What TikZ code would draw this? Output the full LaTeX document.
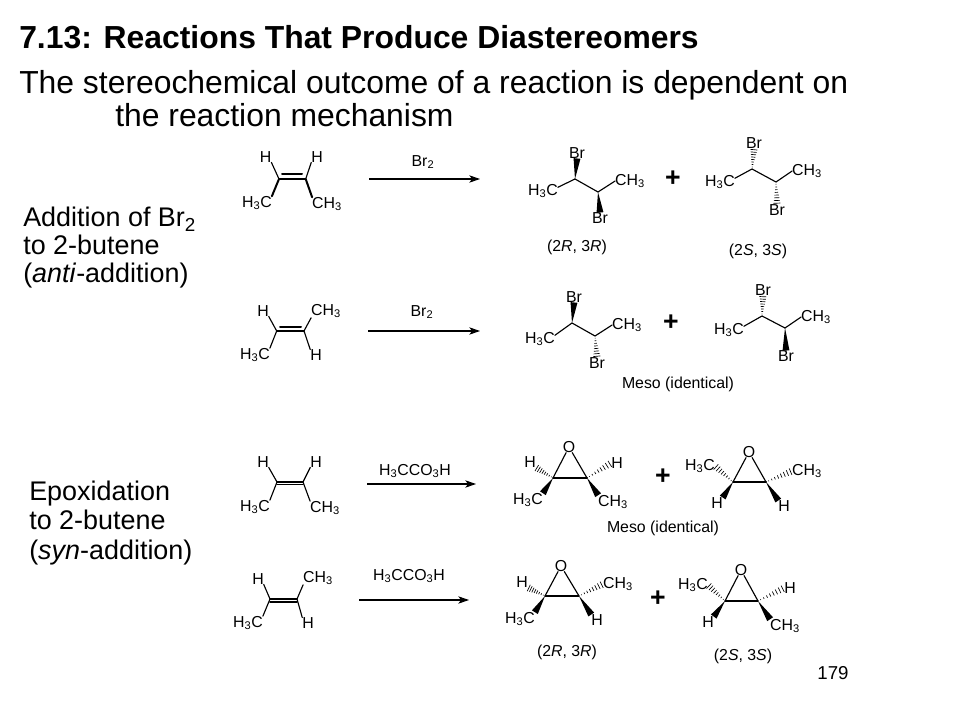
\documentclass[tikz,border=0pt]{standalone}
\usepackage{fontspec}
\setmainfont{Liberation Sans}
\usetikzlibrary{calc,arrows.meta}
\tikzset{
  atom/.style={inner sep=0pt,outer sep=0pt,font=\fontsize{11.9pt}{14pt}\selectfont},
  bond/.style={line width=0.85pt,line cap=round},
  heavy/.style={line width=1.5pt,line cap=round},
  hashline/.style={line width=0.5pt},
  rxn/.style={line width=0.8pt,-{Stealth[length=8pt,width=5.5pt,inset=2pt]}},
  plus/.style={inner sep=0pt,font=\fontsize{20pt}{22pt}\selectfont\bfseries},
  heading/.style={inner sep=0pt,anchor=base west,font=\fontsize{23.9pt}{28pt}\selectfont},
  side/.style={inner sep=0pt,anchor=base west,font=\fontsize{20.2pt}{24pt}\selectfont},
}
\newcommand\Hc{H\textsubscript{3}C}
\newcommand\Ch{CH\textsubscript{3}}
\newcommand\wedgebd[2]{\fill ($(#1)$) -- ($(#2)!2.6pt!90:(#1)$) -- ($(#2)!2.6pt!-90:(#1)$) -- cycle;}
\newcommand\hashbd[2]{\foreach \hh in {0.1,0.22,0.34,0.46,0.58,0.7,0.82,0.94}{
  \coordinate (hp) at ($(#1)!\hh!(#2)$);
  \draw[hashline] ($(hp)!\hh*2.8pt!90:(#2)$) -- ($(hp)!\hh*2.8pt!-90:(#2)$);}}
\begin{document}
\begin{tikzpicture}[x=0.75pt,y=-0.75pt]
\useasboundingbox (0,0) rectangle (960,720);
% headings
\node[heading,font=\fontsize{23.9pt}{28pt}\selectfont\bfseries] (title) at (19,49) {7.13: Reactions That Produce Diastereomers};
\node[heading] (line1) at (19,94) {The stereochemical outcome of a reaction is dependent on};
\node[heading] (line2) at (115,127) {the reaction mechanism};
\node[side] (s1) at (23,227) {Addition of Br\textsubscript{2}};
\node[side] (s2) at (23,255) {to 2-butene};
\node[side] (s3) at (23,283) {(\textit{anti}-addition)};
\node[side] (s4) at (29,500) {Epoxidation};
\node[side] (s5) at (29,529) {to 2-butene};
\node[side] (s6) at (29,559) {(\textit{syn}-addition)};
\node[inner sep=0pt,font=\fontsize{14pt}{16pt}\selectfont] (page) at (833,673) {179};

% alkene 1
\coordinate (a1) at (279,179); \coordinate (a2) at (305.7,179);
\coordinate (a1i) at (282,174.3); \coordinate (a2i) at (302,174.3);
\node[atom] (a3) at (265.7,157) {H}; \node[atom] (a4) at (317,157) {H};
\node[atom] (a5) at (257,203) {\Hc}; \node[atom] (a6) at (327,204) {\Ch};
\draw[bond] (a1)--(a2); \draw[heavy] (a1i)--(a2i);
\draw[bond] (a1)--(a3.south east); \draw[bond] (a2)--(a4.south west);
\draw[heavy] (a1)--(a5.north east); \draw[heavy] (a2)--(a6.north west);
\coordinate (r1s) at (369,179); \coordinate (r1e) at (480,179);
\draw[rxn] (r1s)--(r1e);
\node[atom] (r1t) at (423,162) {Br\textsubscript{2}};

% alkene 2
\coordinate (b1) at (276.7,331); \coordinate (b2) at (304,331);
\coordinate (b1i) at (280,326.7); \coordinate (b2i) at (301,326.7);
\node[atom] (b3) at (263,311) {H}; \node[atom] (b4) at (326,311) {\Ch};
\node[atom] (b5) at (255,355) {\Hc}; \node[atom] (b6) at (316,355) {H};
\draw[bond] (b1)--(b2); \draw[heavy] (b1i)--(b2i);
\draw[bond] (b1)--(b3.south east); \draw[bond] (b2)--(b4.south west);
\draw[bond] (b1)--(b5.north east); \draw[bond] (b2)--(b6.north west);
\coordinate (r2s) at (368,331); \coordinate (r2e) at (480,331);
\draw[rxn] (r2s)--(r2e);
\node[atom] (r2t) at (422,312) {Br\textsubscript{2}};

% alkene 3
\coordinate (c1) at (277,482); \coordinate (c2) at (303,482);
\coordinate (c1i) at (277,484.7); \coordinate (c2i) at (303,484.7);
\node[atom] (c3) at (263,462) {H}; \node[atom] (c4) at (316,462) {H};
\node[atom] (c5) at (255,507) {\Hc}; \node[atom] (c6) at (325,508) {\Ch};
\draw[bond] (c1)--(c2); \draw[bond] (c1i)--(c2i);
\draw[bond] (c1)--(c3.south east); \draw[bond] (c2)--(c4.south west);
\draw[bond] (c1)--(c5.north east); \draw[bond] (c2)--(c6.north west);
\coordinate (r3s) at (367,484); \coordinate (r3e) at (476,484);
\draw[rxn] (r3s)--(r3e);
\node[atom] (r3t) at (415,471) {H\textsubscript{3}CCO\textsubscript{3}H};

% alkene 4
\coordinate (d1) at (270,599); \coordinate (d2) at (297,599);
\coordinate (d1i) at (270,601.5); \coordinate (d2i) at (297,601.5);
\node[atom] (d3) at (258,579) {H}; \node[atom] (d4) at (318,578) {\Ch};
\node[atom] (d5) at (248,623) {\Hc}; \node[atom] (d6) at (308,623) {H};
\draw[heavy] (d1)--(d2); \draw[heavy] (d1i)--(d2i);
\draw[bond] (d1)--(d3.south east); \draw[bond] (d2)--(d4.south west);
\draw[bond] (d1)--(d5.north east); \draw[bond] (d2)--(d6.north west);
\coordinate (r4s) at (359,600); \coordinate (r4e) at (469,600);
\draw[rxn] (r4s)--(r4e);
\node[atom] (r4t) at (409,576) {H\textsubscript{3}CCO\textsubscript{3}H};

% product 1
\coordinate (e1) at (575,179); \coordinate (e2) at (598,192);
\node[atom] (e3) at (577,153) {Br}; \node[atom] (e4) at (600,218) {Br};
\node[atom] (e5) at (543,191) {\Hc}; \node[atom] (e6) at (630,181) {\Ch};
\draw[bond] (e1)--(e2); \draw[bond] (e1)--(e5.14); \draw[bond] (e2)--(e6.west);
\wedgebd{e1}{e3.south} \wedgebd{e2}{e4.north}
\node[plus] (e7) at (673,179) {+};
\node[atom] (e8) at (577,247) {(2\textit{R}, 3\textit{R})};

% product 2
\coordinate (f1) at (752,169); \coordinate (f2) at (776,182);
\node[atom] (f3) at (754,143) {Br}; \node[atom] (f4) at (777,210) {Br};
\node[atom] (f5) at (720,182) {\Hc}; \node[atom] (f6) at (807,171) {\Ch};
\draw[bond] (f1)--(f2); \draw[bond] (f1)--(f5.14); \draw[bond] (f2)--(f6.west);
\hashbd{f1}{f3.south} \hashbd{f2}{f4.north}
\node[atom] (f8) at (758,251) {(2\textit{S}, 3\textit{S})};

% product 3
\coordinate (g1) at (572,323); \coordinate (g2) at (595,336);
\node[atom] (g3) at (574,297) {Br}; \node[atom] (g4) at (597,363) {Br};
\node[atom] (g5) at (540,339) {\Hc}; \node[atom] (g6) at (627,325) {\Ch};
\draw[bond] (g1)--(g2); \draw[bond] (g1)--(g5.14); \draw[bond] (g2)--(g6.west);
\wedgebd{g1}{g3.south} \hashbd{g2}{g4.north}
\node[plus] (g7) at (671,323) {+};

% product 4
\coordinate (h1) at (762,316); \coordinate (h2) at (785,328);
\node[atom] (h3) at (763,290) {Br}; \node[atom] (h4) at (786,356) {Br};
\node[atom] (h5) at (729,330) {\Hc}; \node[atom] (h6) at (816,317) {\Ch};
\draw[bond] (h1)--(h2); \draw[bond] (h1)--(h5.14); \draw[bond] (h2)--(h6.west);
\hashbd{h1}{h3.south} \wedgebd{h2}{h4.north}
\node[atom] (h8) at (678,384) {Meso (identical)};

% product 5
\node[atom] (i0) at (569,447) {O};
\coordinate (i1) at (553,478); \coordinate (i2) at (587,478);
\node[atom] (i3) at (530,462) {H}; \node[atom] (i4) at (617,463) {H};
\node[atom] (i5) at (528,500) {\Hc}; \node[atom] (i6) at (613,502) {\Ch};
\draw[heavy] (i1)--(i2); \draw[bond] (i1)--(i0); \draw[bond] (i2)--(i0);
\hashbd{i1}{i3.south east} \hashbd{i2}{i4.west}
\wedgebd{i1}{i5.north east} \wedgebd{i2}{i6.north west}
\node[plus] (i7) at (663,477) {+};
\node[atom] (i8) at (663,528) {Meso (identical)};

% product 6
\node[atom] (j0) at (749,452) {O};
\coordinate (j1) at (733,482); \coordinate (j2) at (766,482);
\node[atom] (j3) at (700,466) {\Hc}; \node[atom] (j4) at (807,471) {\Ch};
\node[atom] (j5) at (717,503) {H}; \node[atom] (j6) at (784,506) {H};
\draw[heavy] (j1)--(j2); \draw[bond] (j1)--(j0); \draw[bond] (j2)--(j0);
\hashbd{j1}{j3.east} \hashbd{j2}{j4.west}
\wedgebd{j1}{j5.north east} \wedgebd{j2}{j6.north west}

% product 7
\node[atom] (k0) at (561,566) {O};
\coordinate (k1) at (545,596); \coordinate (k2) at (579,596);
\node[atom] (k3) at (522,582) {H}; \node[atom] (k4) at (618,584) {\Ch};
\node[atom] (k5) at (520,619) {\Hc}; \node[atom] (k6) at (597,620) {H};
\draw[bond] (k1)--(k2); \draw[bond] (k1)--(k0); \draw[bond] (k2)--(k0);
\hashbd{k1}{k3.south east} \hashbd{k2}{k4.west}
\wedgebd{k1}{k5.north east} \wedgebd{k2}{k6.north west}
\node[plus] (k7) at (658,599) {+};
\node[atom] (k8) at (567,652) {(2\textit{R}, 3\textit{R})};

% product 8
\node[atom] (l0) at (741,570) {O};
\coordinate (l1) at (725,601); \coordinate (l2) at (758,601);
\node[atom] (l3) at (693,585) {\Hc}; \node[atom] (l4) at (790,588) {H};
\node[atom] (l5) at (708,622) {H}; \node[atom] (l6) at (785,626) {\Ch};
\draw[bond] (l1)--(l2); \draw[bond] (l1)--(l0); \draw[bond] (l2)--(l0);
\hashbd{l1}{l3.east} \hashbd{l2}{l4.west}
\wedgebd{l1}{l5.north east} \wedgebd{l2}{l6.north west}
\node[atom] (l8) at (743,656) {(2\textit{S}, 3\textit{S})};
\end{tikzpicture}
\end{document}
